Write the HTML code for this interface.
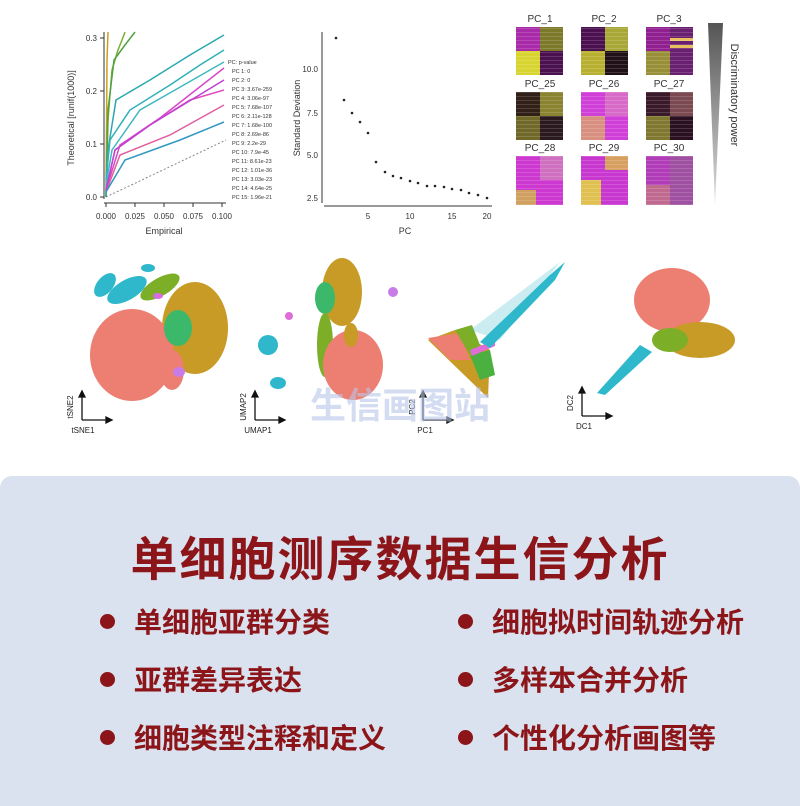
<!DOCTYPE html>
<html><head><meta charset="utf-8"><style>
html,body{margin:0;padding:0;background:#fff;}
body{width:800px;height:800px;position:relative;overflow:hidden;font-family:"Liberation Sans","Noto Sans CJK SC",sans-serif;}
#panel{position:absolute;left:0;top:476px;width:800px;height:330px;background:#dbe2ef;border-radius:12px 12px 0 0;}
.t{position:absolute;left:0;width:800px;top:521px;text-align:center;font-size:47px;font-weight:bold;color:#8b1518;letter-spacing:2px;font-family:"Noto Sans CJK SC",sans-serif;}
.b{position:absolute;font-size:28px;color:#8b1518;font-weight:bold;font-family:"Noto Sans CJK SC",sans-serif;line-height:30px;}
.d{position:absolute;width:15px;height:15px;border-radius:50%;background:#8b1518;}
svg{position:absolute;left:0;top:0;}
</style></head><body>
<svg width="800" height="470" viewBox="0 0 800 470" font-family="Liberation Sans, sans-serif">
<g stroke="#333" stroke-width="1" fill="none">
<line x1="104" y1="32" x2="104" y2="199"/><line x1="104" y1="203" x2="226" y2="203"/>
<line x1="100" y1="38" x2="104" y2="38"/><line x1="100" y1="91" x2="104" y2="91"/><line x1="100" y1="144" x2="104" y2="144"/><line x1="100" y1="197" x2="104" y2="197"/>
<line x1="106" y1="203" x2="106" y2="207"/><line x1="135" y1="203" x2="135" y2="207"/><line x1="164" y1="203" x2="164" y2="207"/><line x1="193" y1="203" x2="193" y2="207"/><line x1="222" y1="203" x2="222" y2="207"/>
</g>
<g font-size="8" fill="#333">
<text x="97" y="41" text-anchor="end">0.3</text><text x="97" y="94" text-anchor="end">0.2</text><text x="97" y="147" text-anchor="end">0.1</text><text x="97" y="200" text-anchor="end">0.0</text>
<text x="106" y="219" text-anchor="middle">0.000</text><text x="135" y="219" text-anchor="middle">0.025</text><text x="164" y="219" text-anchor="middle">0.050</text><text x="193" y="219" text-anchor="middle">0.075</text><text x="222" y="219" text-anchor="middle">0.100</text>
<text x="164" y="234" text-anchor="middle" font-size="9">Empirical</text>
<text transform="translate(74,118) rotate(-90)" text-anchor="middle" font-size="9">Theoretical [runif(1000)]</text>
</g>
<line x1="106" y1="197" x2="226" y2="140" stroke="#888" stroke-dasharray="2,2"/>
<g fill="none" stroke-width="1.5">
<path d="M106 197 L107 60 L108 32" stroke="#c9a020"/>
<path d="M106 197 L108 120 L112 70 L118 50 L122 40 L125 32" stroke="#7ab030"/>
<path d="M106 197 L108 110 L114 60 L125 45 L135 32" stroke="#50a040"/>
<path d="M106 197 L108 150 L116 100 L150 80 L190 55 L224 35" stroke="#2aa8b0"/>
<path d="M106 180 L110 140 L130 110 L170 85 L200 65 L224 50" stroke="#30b0b8"/>
<path d="M106 185 L112 150 L140 110 L175 90 L224 62" stroke="#40b8c0"/>
<path d="M106 190 L115 150 L150 125 L190 100 L224 90" stroke="#e050c0"/>
<path d="M106 190 L120 145 L160 118 L224 68" stroke="#d848c8"/>
<path d="M106 192 L120 155 L170 135 L224 105" stroke="#e060a0"/>
<path d="M106 192 L125 160 L180 140 L224 122" stroke="#3098c0"/>
<path d="M106 190 L115 150 L150 125 L224 80" stroke="#c040d0"/>
</g>
<g font-size="5.5" fill="#333">
<text x="228" y="64">PC: p-value</text>
<text x="232" y="73">PC 1: 0</text><text x="232" y="82">PC 2: 0</text><text x="232" y="91">PC 3: 3.67e-259</text><text x="232" y="100">PC 4: 3.06e-97</text><text x="232" y="109">PC 5: 7.68e-107</text><text x="232" y="118">PC 6: 2.11e-128</text><text x="232" y="127">PC 7: 1.68e-100</text><text x="232" y="136">PC 8: 2.69e-86</text><text x="232" y="145">PC 9: 2.2e-29</text><text x="232" y="154">PC 10: 7.9e-45</text><text x="232" y="163">PC 11: 8.61e-23</text><text x="232" y="172">PC 12: 1.01e-36</text><text x="232" y="181">PC 13: 3.03e-23</text><text x="232" y="190">PC 14: 4.64e-25</text><text x="232" y="199">PC 15: 1.96e-21</text>
</g>
<g stroke="#333" fill="none"><line x1="322" y1="32" x2="322" y2="203"/><line x1="324" y1="206" x2="492" y2="206"/></g>
<g font-size="8" fill="#333">
<text x="318" y="72" text-anchor="end">10.0</text><text x="318" y="116" text-anchor="end">7.5</text><text x="318" y="158" text-anchor="end">5.0</text><text x="318" y="201" text-anchor="end">2.5</text>
<text x="368" y="219" text-anchor="middle">5</text><text x="410" y="219" text-anchor="middle">10</text><text x="452" y="219" text-anchor="middle">15</text><text x="487" y="219" text-anchor="middle">20</text>
<text x="405" y="234" text-anchor="middle" font-size="9">PC</text>
<text transform="translate(300,118) rotate(-90)" text-anchor="middle" font-size="9">Standard Deviation</text>
</g>
<g fill="#222">
<circle cx="336" cy="38" r="1.3"/><circle cx="344" cy="100" r="1.3"/><circle cx="352" cy="113" r="1.3"/><circle cx="360" cy="122" r="1.3"/><circle cx="368" cy="133" r="1.3"/><circle cx="376" cy="162" r="1.3"/><circle cx="385" cy="172" r="1.3"/><circle cx="393" cy="176" r="1.3"/><circle cx="401" cy="178" r="1.3"/><circle cx="410" cy="181" r="1.3"/><circle cx="418" cy="183" r="1.3"/><circle cx="427" cy="186" r="1.3"/><circle cx="435" cy="186" r="1.3"/><circle cx="444" cy="187" r="1.3"/><circle cx="452" cy="189" r="1.3"/><circle cx="461" cy="190" r="1.3"/><circle cx="469" cy="193" r="1.3"/><circle cx="478" cy="195" r="1.3"/><circle cx="487" cy="198" r="1.3"/>
</g>
<defs>
<linearGradient id="tri" x1="0" y1="0" x2="0" y2="1"><stop offset="0" stop-color="#555"/><stop offset="1" stop-color="#ddd"/></linearGradient>
<pattern id="str" width="4" height="4" patternUnits="userSpaceOnUse"><rect width="4" height="1" fill="rgba(255,255,255,0.15)"/></pattern>
</defs>
<g font-size="10" fill="#333" text-anchor="middle">
<text x="540" y="22">PC_1</text><text x="604" y="22">PC_2</text><text x="669" y="22">PC_3</text>
<text x="540" y="87">PC_25</text><text x="604" y="87">PC_26</text><text x="669" y="87">PC_27</text>
<text x="540" y="151">PC_28</text><text x="604" y="151">PC_29</text><text x="669" y="151">PC_30</text>
</g>
<g>
<rect x="516" y="27" width="24" height="24" fill="#a82aa8"/><rect x="540" y="27" width="23" height="24" fill="#7c7a2a"/><rect x="516" y="51" width="24" height="24" fill="#d8d430"/><rect x="540" y="51" width="23" height="24" fill="#4a1050"/>
<rect x="581" y="27" width="24" height="24" fill="#4a1050"/><rect x="605" y="27" width="23" height="24" fill="#a8a838"/><rect x="581" y="51" width="24" height="24" fill="#b8b030"/><rect x="605" y="51" width="23" height="24" fill="#201018"/>
<rect x="646" y="27" width="24" height="24" fill="#902090"/><rect x="670" y="27" width="23" height="24" fill="#6a2070"/><rect x="646" y="51" width="24" height="24" fill="#989038"/><rect x="670" y="51" width="23" height="24" fill="#6a2070"/>
<rect x="670" y="38" width="23" height="3" fill="#e8c060"/><rect x="670" y="45" width="23" height="3" fill="#e8c060"/>
<rect x="516" y="92" width="24" height="24" fill="#302018"/><rect x="540" y="92" width="23" height="24" fill="#8a8430"/><rect x="516" y="116" width="24" height="24" fill="#706828"/><rect x="540" y="116" width="23" height="24" fill="#2a1a20"/>
<rect x="581" y="92" width="47" height="48" fill="#d040d8"/><rect x="605" y="92" width="23" height="24" fill="#d86ac8"/><rect x="581" y="116" width="24" height="24" fill="#d89080"/>
<rect x="646" y="92" width="24" height="24" fill="#3a1a2a"/><rect x="670" y="92" width="23" height="24" fill="#7a4a50"/><rect x="646" y="116" width="24" height="24" fill="#807830"/><rect x="670" y="116" width="23" height="24" fill="#2a1020"/>
<rect x="516" y="156" width="47" height="49" fill="#cc38d0"/><rect x="540" y="156" width="23" height="24" fill="#d070c0"/><rect x="516" y="190" width="20" height="15" fill="#d0a060"/>
<rect x="581" y="156" width="47" height="49" fill="#c838d0"/><rect x="605" y="156" width="23" height="14" fill="#d8a060"/><rect x="581" y="180" width="20" height="25" fill="#e0c050"/>
<rect x="646" y="156" width="47" height="49" fill="#b03cb8"/><rect x="670" y="156" width="23" height="49" fill="#a050a0"/><rect x="646" y="185" width="24" height="20" fill="#c06a90"/>
<rect x="516" y="27" width="47" height="48" fill="url(#str)"/><rect x="581" y="27" width="47" height="48" fill="url(#str)"/><rect x="646" y="27" width="47" height="48" fill="url(#str)"/>
<rect x="516" y="92" width="47" height="48" fill="url(#str)"/><rect x="581" y="92" width="47" height="48" fill="url(#str)"/><rect x="646" y="92" width="47" height="48" fill="url(#str)"/>
<rect x="516" y="156" width="47" height="49" fill="url(#str)"/><rect x="581" y="156" width="47" height="49" fill="url(#str)"/><rect x="646" y="156" width="47" height="49" fill="url(#str)"/>
</g>
<polygon points="708,23 723,23 715,205" fill="url(#tri)"/>
<text transform="translate(731,95) rotate(90)" font-size="11" fill="#333" text-anchor="middle">Discriminatory power</text>
<g>
<ellipse cx="105" cy="285" rx="8" ry="14" fill="#2fb8cc" transform="rotate(40 105 285)"/>
<ellipse cx="127" cy="290" rx="22" ry="10" fill="#2fb8cc" transform="rotate(-30 127 290)"/>
<ellipse cx="148" cy="268" rx="7" ry="4" fill="#2fb8cc"/>
<ellipse cx="160" cy="287" rx="22" ry="9" fill="#7cae28" transform="rotate(-30 160 287)"/>
<ellipse cx="195" cy="328" rx="33" ry="46" fill="#c89a26"/>
<ellipse cx="132" cy="355" rx="42" ry="46" fill="#ec7f72"/>
<ellipse cx="172" cy="370" rx="12" ry="20" fill="#ec7f72"/>
<ellipse cx="178" cy="328" rx="14" ry="18" fill="#3cb86a"/>
<ellipse cx="179" cy="372" rx="6" ry="5" fill="#c77ce8"/>
<ellipse cx="158" cy="296" rx="5" ry="3" fill="#d86ce0"/>
<ellipse cx="342" cy="292" rx="20" ry="34" fill="#c89a26"/>
<ellipse cx="325" cy="298" rx="10" ry="16" fill="#3cb86a"/>
<ellipse cx="325" cy="345" rx="8" ry="32" fill="#7cae28"/>
<ellipse cx="353" cy="365" rx="30" ry="35" fill="#ec7f72"/>
<ellipse cx="351" cy="335" rx="7" ry="12" fill="#c89a26"/>
<ellipse cx="268" cy="345" rx="10" ry="10" fill="#2fb8cc"/>
<ellipse cx="278" cy="383" rx="8" ry="6" fill="#2fb8cc"/>
<ellipse cx="289" cy="316" rx="4" ry="4" fill="#e06cd8"/>
<ellipse cx="393" cy="292" rx="5" ry="5" fill="#c77ce8"/>
<polygon points="428,340 455,330 490,350 488,398" fill="#c89a26"/>
<polygon points="428,338 460,333 470,360 450,360" fill="#ec7f72"/>
<polygon points="455,330 472,325 480,345 470,355" fill="#7cae28"/>
<polygon points="470,355 490,350 495,375 480,380" fill="#4bb040"/>
<polygon points="470,350 495,340 495,346 472,356" fill="#e06cd8"/>
<polygon points="480,342 550,275 565,262 555,280 490,348" fill="#2fb8cc"/>
<polygon points="470,330 560,262 500,340" fill="#2fb8cc" opacity="0.25"/>
<ellipse cx="672" cy="300" rx="38" ry="32" fill="#ec7f72"/>
<ellipse cx="700" cy="340" rx="35" ry="18" fill="#c89a26"/>
<ellipse cx="670" cy="340" rx="18" ry="12" fill="#7cae28"/>
<polygon points="597,393 640,345 652,352 605,395" fill="#2fb8cc"/>
</g>
<g stroke="#111" stroke-width="1.3" fill="#111">
<line x1="82" y1="420" x2="82" y2="395"/><line x1="82" y1="420" x2="108" y2="420"/><polygon points="79,397 85,397 82,391"/><polygon points="106,417 106,423 112,420"/>
<line x1="255" y1="420" x2="255" y2="395"/><line x1="255" y1="420" x2="281" y2="420"/><polygon points="252,397 258,397 255,391"/><polygon points="279,417 279,423 285,420"/>
<line x1="423" y1="420" x2="423" y2="395"/><line x1="423" y1="420" x2="449" y2="420"/><polygon points="420,397 426,397 423,391"/><polygon points="447,417 447,423 453,420"/>
<line x1="582" y1="416" x2="582" y2="391"/><line x1="582" y1="416" x2="608" y2="416"/><polygon points="579,393 585,393 582,387"/><polygon points="606,413 606,419 612,416"/>
</g>
<g font-size="8" fill="#222" text-anchor="middle">
<text x="83" y="433">tSNE1</text><text transform="translate(73,407) rotate(-90)">tSNE2</text>
<text x="258" y="433">UMAP1</text><text transform="translate(246,407) rotate(-90)">UMAP2</text>
<text x="425" y="433">PC1</text><text transform="translate(415,407) rotate(-90)">PC2</text>
<text x="584" y="429">DC1</text><text transform="translate(573,403) rotate(-90)">DC2</text>
</g>
<text x="400" y="418" font-size="36" fill="#b9c6ea" opacity="0.6" text-anchor="middle" font-family="Noto Sans CJK SC, sans-serif" font-weight="bold">生信画图站</text>
</svg>
<div id="panel"></div>
<div class="t">单细胞测序数据生信分析</div>
<div class="d" style="left:100px;top:614px"></div><div class="b" style="left:134px;top:606px">单细胞亚群分类</div>
<div class="d" style="left:100px;top:672px"></div><div class="b" style="left:134px;top:664px">亚群差异表达</div>
<div class="d" style="left:100px;top:730px"></div><div class="b" style="left:134px;top:722px">细胞类型注释和定义</div>
<div class="d" style="left:458px;top:614px"></div><div class="b" style="left:492px;top:606px">细胞拟时间轨迹分析</div>
<div class="d" style="left:458px;top:672px"></div><div class="b" style="left:492px;top:664px">多样本合并分析</div>
<div class="d" style="left:458px;top:730px"></div><div class="b" style="left:492px;top:722px">个性化分析画图等</div>
</body></html>
